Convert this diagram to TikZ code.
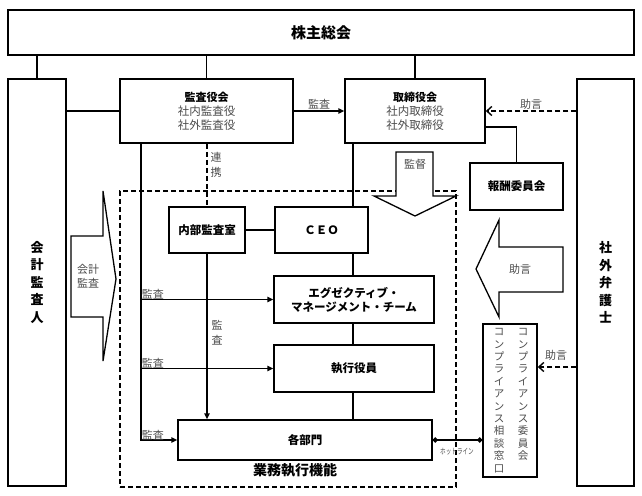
\documentclass[tikz,border=0pt]{standalone}
\usepackage{fontspec}
\setmainfont{Noto Sans CJK JP}
\usepackage{tikz}
\usetikzlibrary{arrows.meta, positioning, calc}

\definecolor{labelgray}{RGB}{75, 75, 75}

\begin{document}
\begin{tikzpicture}[x=1pt, y=-1pt,
    box/.style={draw, line width=1.5pt, fill=white, inner sep=0pt, align=center,
      font=\bfseries\fontsize{11.5}{14}\selectfont},
    note/.style={text=labelgray, inner sep=1pt, align=center,
      font=\fontsize{11}{14}\selectfont},
    link/.style={line width=1.5pt},
    arr/.style={link, -{Triangle[length=6pt, width=5.5pt]}},
    dashline/.style={line width=1.4pt, dash pattern=on 5pt off 3pt},
    bigarrow/.style={draw, line width=1.3pt, fill=white}]
  \useasboundingbox (0,0) rectangle (642,495);

  % top row
  \node[box, minimum width=626pt, minimum height=45pt, font=\bfseries\fontsize{15}{18}\selectfont] (kabu) at (321,32.5) {株主総会};
  \node[box, minimum width=58pt, minimum height=407pt, font=\bfseries\fontsize{13}{17.5}\selectfont] (kaikei) at (37,282.5) {会\\計\\監\\査\\人};
  \node[box, minimum width=57pt, minimum height=407pt, font=\bfseries\fontsize{13}{17.5}\selectfont] (bengo) at (605.5,282.5) {社\\外\\弁\\護\\士};
  \node[box, minimum width=173pt, minimum height=64pt, font=\bfseries\fontsize{11}{14}\selectfont] (kansa) at (206.5,111)
    {監査役会\\{\mdseries\color{labelgray}\fontsize{11.5}{14}\selectfont 社内監査役}\\{\mdseries\color{labelgray}\fontsize{11.5}{14}\selectfont 社外監査役}};
  \node[box, minimum width=140pt, minimum height=64pt, font=\bfseries\fontsize{11}{14}\selectfont] (tori) at (415,111)
    {取締役会\\{\mdseries\color{labelgray}\fontsize{11.5}{14}\selectfont 社内取締役}\\{\mdseries\color{labelgray}\fontsize{11.5}{14}\selectfont 社外取締役}};
  \node[box, minimum width=93pt, minimum height=47pt] (hoshu) at (516.5,186.5) {報酬委員会};

  % business execution
  \node[dashline, draw, minimum width=336pt, minimum height=296pt, inner sep=0pt] (gyomu) at (288,339) {};
  \node[font=\bfseries\fontsize{14}{16}\selectfont, inner sep=0pt] (gyomulabel) at (295,470) {業務執行機能};
  \node[box, minimum width=76pt, minimum height=46pt] (naibu) at (207,230) {内部監査室};
  \node[box, minimum width=93pt, minimum height=46pt] (ceo) at (321.5,230) {ＣＥＯ};
  \node[box, minimum width=160pt, minimum height=47pt] (emt) at (354,299.5) {エグゼクティブ・\\マネージメント・チーム};
  \node[box, minimum width=160pt, minimum height=47pt] (shikko) at (354,368.5) {執行役員};
  \node[box, minimum width=254pt, minimum height=40pt] (kakubu) at (305,440) {各部門};

  % compliance
  \node[box, minimum width=54pt, minimum height=153pt] (comp) at (510,400.5) {};
  \node[note, font=\fontsize{10.5}{12.4}\selectfont] (compiin) at (523,394.5) {コ\\ン\\プ\\ラ\\イ\\ア\\ン\\ス\\委\\員\\会};
  \node[note, font=\fontsize{10.5}{12.4}\selectfont] (compmado) at (499,400.5) {コ\\ン\\プ\\ラ\\イ\\ア\\ン\\ス\\相\\談\\窓\\口};

  % block arrows
  \path[bigarrow] (71,236) -- (103,236) -- (103,191) -- (116,279) -- (103,361) -- (103,317) -- (71,317) -- cycle;
  \node[note] (kaikeikansa) at (88,276) {会計\\監査};
  \path[bigarrow] (396,152) -- (433,152) -- (433,196) -- (456,196) -- (415,216) -- (374,196) -- (396,196) -- cycle;
  \node[note] (kantoku) at (415,164) {監督};
  \path[bigarrow] (563,247) -- (499,247) -- (499,220) -- (476,269) -- (499,317) -- (499,292) -- (563,292) -- cycle;
  \node[note] (jogenbig) at (520,269) {助言};

  % lines from the shareholders' meeting
  \draw[link] (kabu.south -| kaikei.north) -- (kaikei.north);
  \draw[link] (kabu.south -| kansa.north) -- (kansa.north);
  \draw[link] (kabu.south -| tori.north) -- (tori.north);
  \draw[link] (kaikei.east |- kansa.west) -- (kansa.west);
  \draw[arr] (kansa.east) -- node[note, above] {監査} (tori.west);
  \draw[dashline, -{Straight Barb[length=5pt, width=9pt]}] (bengo.west |- tori.east) -- node[note, above] {助言} (tori.east);
  \draw[link] ([yshift=-16pt]tori.east) -| (hoshu.north);

  % audit lines
  \coordinate (kl) at ([xshift=21.5pt]kansa.south west);
  \draw[arr] (kl) |- (kakubu.west);
  \draw[arr] (kl |- emt.west) -- (emt.west);
  \draw[arr] (kl |- shikko.west) -- (shikko.west);
  \node[note, anchor=south west] (kansa1) at ([yshift=-1pt]kl |- emt.west) {監査};
  \node[note, anchor=south west] (kansa2) at ([yshift=-1pt]kl |- shikko.west) {監査};
  \node[note, anchor=south west] (kansa3) at ([yshift=-1pt]kl |- kakubu.west) {監査};
  \draw[dashline] (kansa.south -| naibu.north) -- (naibu.north);
  \node[note, font=\fontsize{11}{15}\selectfont] (renkei) at (216,165) {連\\携};
  \draw[arr] (naibu.south) -- (naibu.south |- kakubu.north);
  \node[note, font=\fontsize{11}{15}\selectfont] (kansa4) at (217,333) {監\\査};

  % executive chain
  \coordinate (tl) at ([xshift=8.5pt]tori.south west);
  \draw[link] (tl) -- (tl |- ceo.north);
  \draw[link] (naibu.east) -- (ceo.west);
  \draw[link] (tl |- ceo.south) -- (tl |- emt.north);
  \draw[link] (tl |- emt.south) -- (tl |- shikko.north);
  \draw[link] (tl |- shikko.south) -- (tl |- kakubu.north);

  % hotline and advice
  \draw[link, {Circle[length=5pt]}-{Circle[length=5pt]}] (kakubu.east) -- (comp.west |- kakubu.east);
  \node[note, font=\fontsize{8}{9}\selectfont] (hotline) at (457,452) {\scalebox{0.7}[1]{ホットライン}};
  \draw[dashline, -{Straight Barb[length=5pt, width=9pt]}] (bengo.west |- 0,367) -- (comp.east |- 0,367);
  \node[note] (jogen2) at (556,355) {助言};
\end{tikzpicture}
\end{document}
